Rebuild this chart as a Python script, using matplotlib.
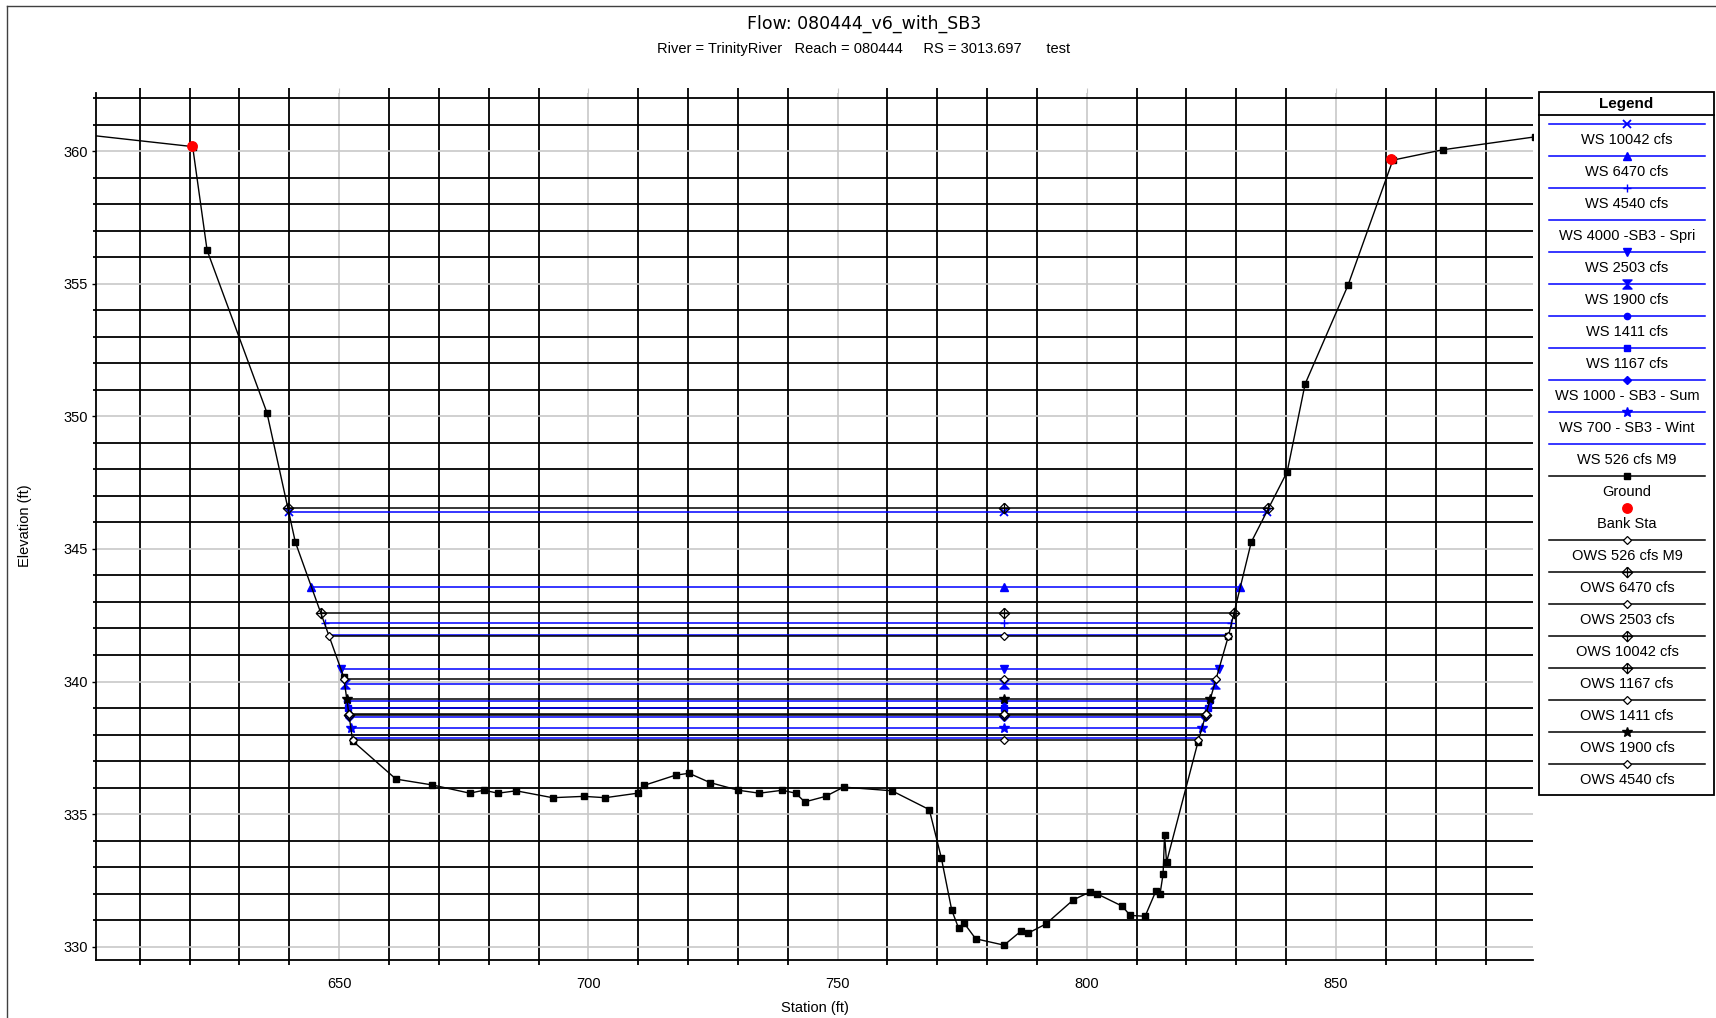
import numpy as np
import matplotlib
matplotlib.use("Agg")
import matplotlib.pyplot as plt
from matplotlib.path import Path
from matplotlib.ticker import MultipleLocator
from matplotlib.patches import Rectangle

# ---- data ----
ground_sta = [600.0, 620.6, 623.5, 635.5, 641.2, 650.9, 652.7, 661.4, 668.7, 676.2,
              679.0, 681.9, 685.5, 692.8, 699.1, 703.4, 709.9, 711.1, 717.5, 720.2,
              724.4, 730.1, 734.3, 738.9, 741.6, 743.4, 747.6, 751.2, 760.9, 768.4,
              770.8, 772.9, 774.3, 775.3, 777.7, 783.4, 786.8, 788.2, 791.8, 797.3,
              800.6, 802.0, 807.1, 808.7, 811.7, 813.9, 814.7, 815.3, 815.6, 816.0,
              822.3, 828.4, 833.0, 840.2, 843.8, 852.4, 861.4, 871.4, 890.0]
ground_elev = [360.60, 360.17, 356.26, 350.14, 345.26, 340.18, 337.76, 336.32, 336.10, 335.79,
               335.90, 335.79, 335.88, 335.62, 335.67, 335.62, 335.79, 336.08, 336.47, 336.54,
               336.19, 335.90, 335.79, 335.90, 335.79, 335.46, 335.67, 336.02, 335.88, 335.17,
               333.36, 331.38, 330.69, 330.91, 330.30, 330.06, 330.59, 330.51, 330.86, 331.77,
               332.06, 332.00, 331.53, 331.18, 331.15, 332.12, 332.00, 332.74, 334.22, 333.19,
               337.72, 341.71, 345.26, 347.91, 351.22, 354.94, 359.66, 360.05, 360.54]

bank_sta = [620.5, 861.0]
bank_elev = [360.21, 359.71]

ws_labels = ["WS 10042 cfs", "WS 6470 cfs", "WS 4540 cfs", "WS 4000 -SB3 - Spri",
             "WS 2503 cfs", "WS 1900 cfs", "WS 1411 cfs", "WS 1167 cfs",
             "WS 1000 - SB3 - Sum", "WS 700 - SB3 - Wint", "WS 526 cfs M9"]
ws_elev = [346.39, 343.58, 342.19, 341.74, 340.49, 339.90, 339.27, 339.00,
           338.68, 338.23, 337.88]

ows_labels = ["OWS 526 cfs M9", "OWS 6470 cfs", "OWS 2503 cfs", "OWS 10042 cfs",
              "OWS 1167 cfs", "OWS 1411 cfs", "OWS 1900 cfs", "OWS 4540 cfs"]
ows_elev = [337.78, 342.60, 340.10, 346.53, 338.74, 338.78, 339.36, 341.71]

title = "Flow: 080444_v6_with_SB3"
subtitle = "River = TrinityRiver   Reach = 080444     RS = 3013.697      test"

# ---- marker styles ----
hourglass = Path([(-1, 1), (1, 1), (-1, -1), (1, -1), (-1, 1)],
                 [Path.MOVETO, Path.LINETO, Path.LINETO, Path.LINETO, Path.CLOSEPOLY])
crossed_diamond = Path([(0, 1), (1, 0), (0, -1), (-1, 0), (0, 1),
                        (0, 1), (0, -1), (-1, 0), (1, 0)],
                       [Path.MOVETO, Path.LINETO, Path.LINETO, Path.LINETO, Path.LINETO,
                        Path.MOVETO, Path.LINETO, Path.MOVETO, Path.LINETO])

BLUE = "#0000ff"
ws_styles = [
    dict(marker="x", ms=5.5, mew=1.3),
    dict(marker="^", ms=5.5),
    dict(marker="+", ms=5.5, mew=1.0),
    dict(marker=None),
    dict(marker="v", ms=5.5),
    dict(marker=hourglass, ms=6.5),
    dict(marker="o", ms=4.5),
    dict(marker="s", ms=5),
    dict(marker="D", ms=3.8),
    dict(marker="*", ms=7),
    dict(marker=None),
]
hollow_d = dict(marker="D", ms=4.2, mfc="white", mec="black", mew=0.9)
cross_d = dict(marker=crossed_diamond, ms=7.5, mfc="none", mec="black", mew=0.9)
ows_styles = [hollow_d, cross_d, hollow_d, cross_d, cross_d, hollow_d,
              dict(marker="*", ms=7.5, mfc="black", mec="black"), hollow_d]


def water_edges(level):
    sta = np.array(ground_sta)
    elev = np.array(ground_elev)
    i0 = int(np.argmin(elev))
    i = i0
    while elev[i] < level:
        i -= 1
    left = sta[i] + (level - elev[i]) * (sta[i + 1] - sta[i]) / (elev[i + 1] - elev[i])
    j = i0
    while elev[j] < level:
        j += 1
    right = sta[j - 1] + (level - elev[j - 1]) * (sta[j] - sta[j - 1]) / (elev[j] - elev[j - 1])
    return [left, sta[i0], right]


def main():
    plt.rcParams['font.family'] = ['Liberation Sans', 'DejaVu Sans']
    W, H = 1716, 1018
    fig = plt.figure(figsize=(W / 100, H / 100), dpi=100)
    fig.patch.set_facecolor("white")

    ax = fig.add_axes([96.3 / W, 1 - 960 / H, (1532.7 - 96.3) / W, (960 - 93.3) / H])
    ax.set_xlim(601.27, 889.46)
    ax.set_ylim(329.5, 362.18)

    # grid: black minor, grey major
    ax.xaxis.set_major_locator(MultipleLocator(50))
    ax.xaxis.set_minor_locator(MultipleLocator(10))
    ax.yaxis.set_major_locator(MultipleLocator(5))
    ax.yaxis.set_minor_locator(MultipleLocator(1))
    ax.grid(which="minor", color="black", lw=1.3)
    ax.grid(which="major", color="#c8c8c8", lw=1.2)
    ax.set_axisbelow(True)
    for s in ["top", "right"]:
        ax.spines[s].set_visible(False)
    for s in ["left", "bottom"]:
        ax.spines[s].set_linewidth(1.3)
    ax.tick_params(axis="x", which="major", length=3.5, top=True, bottom=False,
                   direction="out", color="#c8c8c8", labelsize=10.5, pad=8.5)
    ax.tick_params(axis="x", which="minor", length=3.5, top=True, bottom=True,
                   direction="out", width=1.3)
    ax.tick_params(axis="y", which="major", length=3, width=1.0, labelsize=10.5, pad=3)
    ax.tick_params(axis="y", which="minor", length=2.5, width=1.3)

    # water surfaces
    for lvl, st in zip(ws_elev, ws_styles):
        ax.plot(water_edges(lvl), [lvl] * 3, color=BLUE, lw=1.1, mfc=BLUE, mec=BLUE,
                zorder=3, **st)
    # ground
    ax.plot(ground_sta, ground_elev, color="black", lw=1.0, marker="s", ms=5, zorder=4)
    ax.plot(bank_sta, bank_elev, ls="none", marker="o", ms=6.8, color="#ff0000", zorder=5)
    # observed water surfaces
    for lvl, st in zip(ows_elev, ows_styles):
        ax.plot(water_edges(lvl), [lvl] * 3, color="black", lw=1.1, zorder=4, **st)

    # overlay in pixel coordinates for titles, frame and legend
    lax = fig.add_axes([0, 0, 1, 1], zorder=10)
    lax.set_xlim(0, W)
    lax.set_ylim(H, 0)
    lax.axis("off")
    lax.patch.set_alpha(0)
    lax.plot([7, W], [6, 6], color="#404040", lw=1.0)
    lax.plot([7, 7], [6, H], color="#404040", lw=1.0)

    lax.text(864, 29, title, ha="center", va="baseline", fontsize=12.5,
             family="DejaVu Sans")
    lax.text(864, 53, subtitle, ha="center", va="baseline", fontsize=10.5)
    lax.text(814.5, 1012, "Station (ft)", ha="center", va="baseline", fontsize=10.5)
    lax.text(25, 526, "Elevation (ft)", ha="center", va="center", rotation=90,
             fontsize=10.5)

    # legend box
    lx0, lx1, ly0, ly1 = 1539, 1714, 91.7, 795
    lax.add_patch(Rectangle((lx0, ly0), lx1 - lx0, ly1 - ly0, fill=False,
                            ec="black", lw=1.3))
    lax.plot([lx0, lx1], [115, 115], color="black", lw=1.3)
    lax.text((lx0 + lx1) / 2, 104, "Legend", ha="center", va="center",
             fontsize=11, fontweight="bold")
    xc = 1627
    entries = []
    for lab, st in zip(ws_labels, ws_styles):
        entries.append((lab, BLUE, dict(mfc=BLUE, mec=BLUE, **st), True))
    entries.append(("Ground", "black", dict(marker="s", ms=5), True))
    entries.append(("Bank Sta", "#ff0000", dict(marker="o", ms=6.8), False))
    for lab, st in zip(ows_labels, ows_styles):
        entries.append((lab, "black", st, True))
    for i, (lab, col, st, has_line) in enumerate(entries):
        yl = 124.3 + 32 * i
        if has_line:
            lax.plot([1549, 1705], [yl, yl], color=col, lw=1.1)
        if st.get("marker") is not None:
            kw = dict(st)
            kw.setdefault("color", col)
            lax.plot([xc], [yl], ls="none", **kw)
        lax.text(xc, 140 + 32 * i, lab, ha="center", va="center", fontsize=10.5)

    fig.savefig("out.png", dpi=100, facecolor="white")


if __name__ == "__main__":
    main()
